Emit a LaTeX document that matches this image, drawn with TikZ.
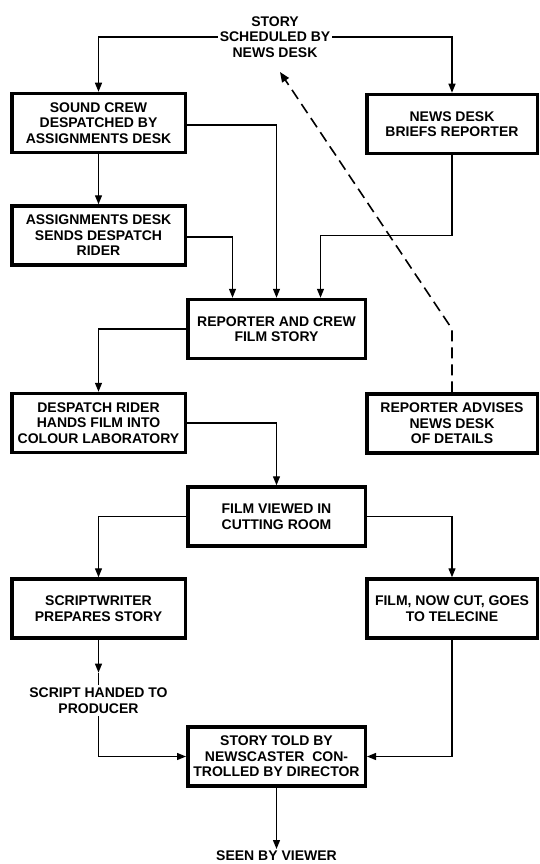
\documentclass[tikz,border=0pt]{standalone}
\usepackage{fontspec}
\setmainfont{Liberation Sans}
\usetikzlibrary{arrows.meta,calc}
\newcommand\diagfont{\fontsize{14}{15.5}\selectfont\bfseries}
\begin{document}
\begin{tikzpicture}[x=1pt,y=-1pt,
  anybox/.style={draw,line width=3.5pt,inner sep=0pt,align=center,font=\diagfont,minimum height=59pt},
  lbox/.style={anybox,minimum width=173.5pt},
  cbox/.style={anybox,minimum width=177.5pt},
  rbox/.style={anybox,minimum width=170.5pt},
  lab/.style={inner sep=2pt,align=center,font=\diagfont},
  conn/.style={line width=1.3pt},
  arr/.style={conn,-{Triangle[length=9pt,width=7pt]}},
  dashy/.style={conn,line width=1.6pt,dash pattern=on 11pt off 6pt,-{Triangle[length=10pt,width=8pt]}}
]
\fill[white] (0,0) rectangle (539,864);
\useasboundingbox (0,0) rectangle (539,864);

\node[lbox] (sc) at (98.5,123) {SOUND CREW\\DESPATCHED BY\\ASSIGNMENTS DESK};
\node[lbox] (ad) at (98.5,235.5) {ASSIGNMENTS DESK\\SENDS DESPATCH\\RIDER};
\node[rbox] (nd) at (452,124) {NEWS DESK\\BRIEFS REPORTER};
\node[cbox] (rc) at (276.5,329) {REPORTER AND CREW\\FILM STORY};
\node[lbox] (dr) at (98.5,423) {DESPATCH RIDER\\HANDS FILM INTO\\COLOUR LABORATORY};
\node[rbox] (ra) at (452,423.5) {REPORTER ADVISES\\NEWS DESK\\OF DETAILS};
\node[cbox] (fv) at (276.5,516.5) {FILM VIEWED IN\\CUTTING ROOM};
\node[lbox] (sw) at (98.5,608.5) {SCRIPTWRITER\\PREPARES STORY};
\node[rbox] (fc) at (452,608.5) {FILM, NOW CUT, GOES\\TO TELECINE};
\node[cbox] (st) at (276.5,756.5) {STORY TOLD BY\\NEWSCASTER\ \ CON-\\TROLLED BY DIRECTOR};

\node[lab] (top) at (275,37) {STORY\\SCHEDULED BY\\NEWS DESK};
\node[lab,inner sep=3pt] (scr) at (98.5,700.5) {SCRIPT HANDED TO\\PRODUCER};
\node[lab,inner sep=2pt,anchor=north] (seen) at (276.5,849) {SEEN BY VIEWER};
\coordinate (dtip) at (280,72);
\coordinate (sh) at ($(scr.north)+(0,-12)$);

\draw[arr] (top.west) -| (sc.north);
\draw[arr] (top.east) -| (nd.north);
\draw[arr] (sc) -- (ad);
\draw[arr] ([yshift=-2pt]sc.east) -| (rc.north);
\draw[arr] ([yshift=-1.5pt]ad.east) -| ([xshift=-44pt]rc.north);
\draw[arr] (nd.south) -- (nd.south |- ad.east) -| ([xshift=44pt]rc.north);
\draw[dashy] (ra.north) -- (ra.north |- rc.east) -- (dtip);
\draw[arr] (rc.west) -| (dr.north);
\draw[arr] (dr.east) -| (fv.north);
\draw[arr] (fv.west) -| (sw.north);
\draw[arr] (fv.east) -| (fc.north);
\draw[arr] (sw.south) -- (sh);
\draw[conn] (sh) -- (scr.north);
\draw[arr] (scr.south) |- (st.west);
\draw[arr] (fc.south) |- (st.east);
\draw[arr] (st.south) -- (seen.north);
\end{tikzpicture}
\end{document}
